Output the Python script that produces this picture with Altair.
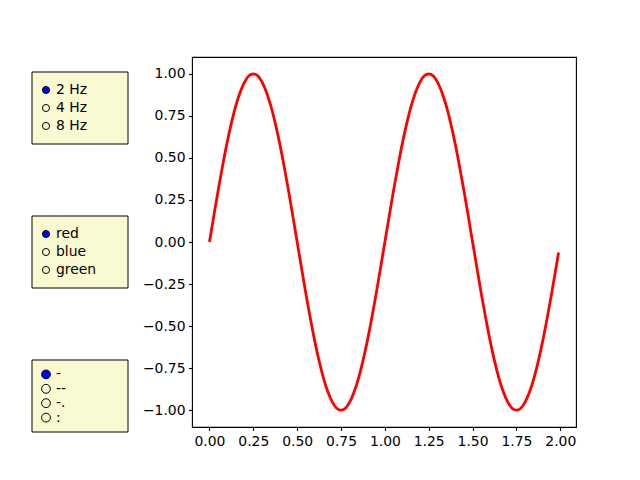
import altair as alt
import pandas as pd

# ---- data ----
t_vals = [0.0, 0.025, 0.05, 0.075, 0.1, 0.125, 0.15, 0.175, 0.2, 0.225,
          0.25, 0.275, 0.3, 0.325, 0.35, 0.375, 0.4, 0.425, 0.45, 0.475,
          0.5, 0.525, 0.55, 0.575, 0.6, 0.625, 0.65, 0.675, 0.7, 0.725,
          0.75, 0.775, 0.8, 0.825, 0.85, 0.875, 0.9, 0.925, 0.95, 0.975,
          1.0, 1.025, 1.05, 1.075, 1.1, 1.125, 1.15, 1.175, 1.2, 1.225,
          1.25, 1.275, 1.3, 1.325, 1.35, 1.375, 1.4, 1.425, 1.45, 1.475,
          1.5, 1.525, 1.55, 1.575, 1.6, 1.625, 1.65, 1.675, 1.7, 1.725,
          1.75, 1.775, 1.8, 1.825, 1.85, 1.875, 1.9, 1.925, 1.95, 1.975,
          1.99]
s_vals = [0.0, 0.156, 0.309, 0.454, 0.588, 0.707, 0.809, 0.891, 0.951, 0.988,
          1.0, 0.988, 0.951, 0.891, 0.809, 0.707, 0.588, 0.454, 0.309, 0.156,
          0.0, -0.156, -0.309, -0.454, -0.588, -0.707, -0.809, -0.891, -0.951, -0.988,
          -1.0, -0.988, -0.951, -0.891, -0.809, -0.707, -0.588, -0.454, -0.309, -0.156,
          0.0, 0.156, 0.309, 0.454, 0.588, 0.707, 0.809, 0.891, 0.951, 0.988,
          1.0, 0.988, 0.951, 0.891, 0.809, 0.707, 0.588, 0.454, 0.309, 0.156,
          0.0, -0.156, -0.309, -0.454, -0.588, -0.707, -0.809, -0.891, -0.951, -0.988,
          -1.0, -0.988, -0.951, -0.891, -0.809, -0.707, -0.588, -0.454, -0.309, -0.156,
          -0.063]

x_ticks = [0.0, 0.25, 0.5, 0.75, 1.0, 1.25, 1.5, 1.75, 2.0]
y_ticks = [-1.0, -0.75, -0.5, -0.25, 0.0, 0.25, 0.5, 0.75, 1.0]

freq_labels = ["2 Hz", "4 Hz", "8 Hz"]
color_labels = ["red", "blue", "green"]
style_labels = ["-", "--", "-.", ":"]

FONT = "DejaVu Sans"
FS = 13.9

line_df = pd.DataFrame({"t": t_vals, "s": s_vals})

main = alt.Chart(line_df).mark_line(
    color="red", strokeWidth=2.8, interpolate="monotone", clip=True
).encode(
    x=alt.X("t:Q",
            scale=alt.Scale(domain=[-0.0995, 2.0895], nice=False, zero=False),
            axis=alt.Axis(values=x_ticks, format=".2f", title=None)),
    y=alt.Y("s:Q",
            scale=alt.Scale(domain=[-1.1, 1.1], nice=False, zero=False),
            axis=alt.Axis(values=y_ticks, format=".2f", title=None)),
)


def radio(labels, top, dot_size):
    n = len(labels)
    df = pd.DataFrame({"label": labels, "i": list(range(n)),
                       "sel": [i == 0 for i in range(n)]})
    base = alt.Chart(df).transform_calculate(
        py=f"{top} + 72*(datum.i+1)/{n + 1}",
        fc="datum.sel ? '#0000ff' : 'transparent'",
    )
    box = alt.Chart(pd.DataFrame({"a": [0]})).mark_rect(
        fill="#fafad2", stroke="black", strokeWidth=1
    ).encode(x=alt.value(-160), x2=alt.value(-64),
             y=alt.value(top), y2=alt.value(top + 72))
    dots = base.mark_circle(size=dot_size, stroke="black", strokeWidth=1,
                            opacity=1).encode(
        x=alt.value(-146),
        y=alt.Y("py:Q", scale=None, axis=None),
        fill=alt.Fill("fc:N", scale=None, legend=None),
    )
    texts = base.mark_text(align="left", baseline="middle", font=FONT,
                           fontSize=FS, color="black").encode(
        x=alt.value(-136),
        y=alt.Y("py:Q", scale=None, axis=None),
        text="label:N",
    )
    return [box, dots, texts]


layers = [main] + radio(freq_labels, 15, 50) + radio(color_labels, 159, 50) \
    + radio(style_labels, 303, 78)

chart = alt.layer(*layers).properties(
    width=384, height=370,
    autosize=alt.AutoSizeParams(type="none"),
    padding={"left": 184, "top": 49, "right": 56, "bottom": 40},
    background="white",
).configure_view(
    stroke="black", strokeWidth=1.1
).configure_axis(
    domain=False, grid=False, tickColor="black", tickSize=3.5, tickWidth=1.1,
    labelFont=FONT, labelFontSize=FS, labelColor="black", labelPadding=3.5,
    labelFlush=False, labelOverlap=False,
)

chart.save("out.html", embed_options={"renderer": "svg", "actions": False})
